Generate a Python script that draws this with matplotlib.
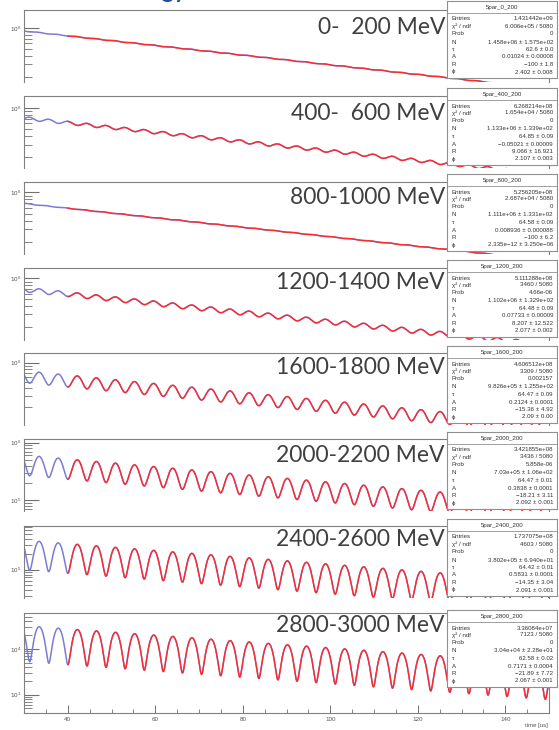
import numpy as np
import matplotlib.pyplot as plt
from matplotlib.ticker import LogLocator, NullFormatter, FixedLocator, MultipleLocator

labels = ['0-  200 MeV', '400-  600 MeV', '800-1000 MeV', '1200-1400 MeV',
          '1600-1800 MeV', '2000-2200 MeV', '2400-2600 MeV', '2800-3000 MeV']
names = ['5par_0_200', '5par_400_200', '5par_800_200', '5par_1200_200',
         '5par_1600_200', '5par_2000_200', '5par_2400_200', '5par_2800_200']
N_fit = [1.458e6, 1.133e6, 1.111e6, 1.102e6, 9.826e5, 7.03e5, 3.802e5, 3.04e4]
tau_fit = [62.6, 64.85, 64.58, 64.48, 64.47, 64.47, 64.42, 62.58]
A_fit = [0.01024, -0.05021, 0.008936, 0.07733, 0.2124, 0.3838, 0.5831, 0.7171]
R_fit = [-100, 9.066, -100, 8.207, -15.36, -18.21, -14.35, -21.89]
phi_fit = [2.402, 2.107, 2.335e-12, 2.077, 2.09, 2.092, 2.091, 2.067]

entries = ['1.431442e+09', '6.268214e+08', '5.256205e+08', '5.111288e+08',
           '4.606512e+08', '3.421855e+08', '1.737075e+08', '3.36084e+07']
chi2 = ['6.006e+05 / 5080', '1.654e+04 / 5080', '2.687e+04 / 5080', '3460 / 5080',
        '3309 / 5080', '3436 / 5080', '4603 / 5080', '7123 / 5080']
prob = ['0', '0', '0', '4.66e-06', '0.002157', '5.858e-06', '0', '0']
N_txt = ['1.458e+06 ± 1.575e+02', '1.133e+06 ± 1.339e+02', '1.111e+06 ± 1.331e+02',
         '1.102e+06 ± 1.329e+02', '9.826e+05 ± 1.255e+02', '7.03e+05 ± 1.06e+02',
         '3.802e+05 ± 6.940e+01', '3.04e+04 ± 2.28e+01']
tau_txt = ['62.6 ± 0.0', '64.85 ± 0.09', '64.58 ± 0.09', '64.48 ± 0.09',
           '64.47 ± 0.09', '64.47 ± 0.01', '64.42 ± 0.01', '62.58 ± 0.02']
A_txt = ['0.01024 ± 0.00008', '\u22120.05021 ± 0.00009', '0.008936 ± 0.000088',
         '0.07733 ± 0.00009', '0.2124 ± 0.0001', '0.3838 ± 0.0001',
         '0.5831 ± 0.0001', '0.7171 ± 0.0004']
R_txt = ['\u2212100 ± 1.8', '9.066 ± 16.921', '\u2212100 ± 6.2', '8.207 ± 12.522',
         '\u221215.36 ± 4.92', '\u221218.21 ± 3.11', '\u221214.35 ± 3.04', '\u221221.89 ± 7.72']
phi_txt = ['2.402 ± 0.008', '2.107 ± 0.003', '2.335e\u221212 ± 3.250e\u221206',
           '2.077 ± 0.002', '2.09 ± 0.00', '2.092 ± 0.001', '2.091 ± 0.001',
           '2.067 ± 0.001']
row_names = ['Entries', '\u03c7\u00b2 / ndf', 'Prob', 'N', '\u03c4', 'A', 'R', '\u03d5']

x_ticks = [40, 60, 80, 100, 120, 140]

W, H = 559, 730
fig = plt.figure(figsize=(W / 100, H / 100), dpi=100)
plt.rcParams['font.family'] = ['Liberation Sans', 'DejaVu Sans']


def px(x, y, w, h):
    return [x / W, 1 - (y + h) / H, w / W, h / H]


omega_ref = 2 * np.pi * 0.2291  # rad/us


def fit5(t, N, tau, A, R, phi):
    w = omega_ref * (1 + R * 1e-6)
    return N * np.exp(-t / tau) * (1 + A * np.cos(w * t + phi))


t_data = np.linspace(30, 150, 3000)
t_fit = t_data[t_data >= 40]

tops = [10, 96, 182, 268, 353, 439, 526, 613]
box_tops = [1, 88, 174, 260, 346, 432, 519, 610]
label_y = [28, 113, 197, 282, 368, 455, 540, 626]
frame_h = 100
left, right = 24, 549
grey = '#707070'

for i in range(8):
    last = (i == 7)
    vis = frame_h if last else 72
    ax = fig.add_axes(px(left, tops[i], right - left, vis))
    pars = (N_fit[i], tau_fit[i], A_fit[i], R_fit[i], phi_fit[i])
    y_data = fit5(t_data, *pars)
    y_fit = fit5(t_fit, *pars)
    ax.plot(t_data, y_data, color='#7b7bd6', lw=1.1)
    ax.plot(t_fit, y_fit, color='#ff2a2a', lw=1.0)
    ax.set_yscale('log')
    # ROOT style auto range on log axis
    lo, hi = y_data.min() / 2, y_data.max() * 2
    lo_vis = hi / (hi / lo) ** (vis / frame_h)
    ax.set_ylim(lo_vis, hi)
    ax.set_xlim(30, 150)
    ax.yaxis.set_major_locator(LogLocator(base=10))
    ax.yaxis.set_minor_locator(LogLocator(base=10, subs=np.arange(2, 10)))
    ax.yaxis.set_minor_formatter(NullFormatter())
    ax.tick_params(axis='y', which='major', direction='in', length=11, width=0.8,
                   color=grey, labelsize=4.5, labelcolor='#555555', pad=2)
    ax.tick_params(axis='y', which='minor', direction='in', length=6, width=0.6,
                   color=grey)
    for s in ax.spines.values():
        s.set_color('#808080')
        s.set_linewidth(0.8)
    if last:
        ax.xaxis.set_major_locator(FixedLocator(x_ticks))
        ax.xaxis.set_minor_locator(MultipleLocator(5))
        ax.tick_params(axis='x', which='major', direction='in', length=6, width=0.7,
                       color=grey, labelsize=4.5, labelcolor='#555555', pad=3)
        ax.tick_params(axis='x', which='minor', direction='in', length=3, width=0.6,
                       color=grey)
    else:
        ax.spines['bottom'].set_visible(False)
        ax.set_xticks([])

    fig.text(445 / W, 1 - label_y[i] / H, labels[i], ha='right', va='center',
             fontsize=16.5, color='#404040', family='Lato', zorder=4)

    # stat box
    bh = 77
    sb = fig.add_axes(px(447, box_tops[i], 110, bh), zorder=6)
    sb.set_xticks([])
    sb.set_yticks([])
    sb.set_facecolor('white')
    for s in sb.spines.values():
        s.set_color('#909090')
        s.set_linewidth(0.8)
    sb.set_xlim(0, 110)
    sb.set_ylim(bh, 0)
    sb.axhline(12, color='#909090', lw=0.6)
    sb.text(55, 6.5, names[i], ha='center', va='center', fontsize=4.4, color='#333333')
    vals = [entries[i], chi2[i], prob[i], N_txt[i], tau_txt[i], A_txt[i], R_txt[i], phi_txt[i]]
    rows = [18, 25, 32.5, 41, 48.5, 56, 63.5, 71]
    for rn, v, yy in zip(row_names, vals, rows):
        sb.text(5, yy, rn, ha='left', va='center', fontsize=4.4, color='#333333')
        sb.text(106, yy, v, ha='right', va='center', fontsize=4.4, color='#333333')

fig.text(548 / W, 1 - 725 / H, 'time [us]', ha='right', va='center',
         fontsize=4.3, color='#555555')
# slide title, cut off by the top edge of the screenshot
fig.text(187 / W, 1 + 2 / H, 'energy', ha='right', va='baseline',
         fontsize=17, color='#1f4e9a', fontweight='bold', family='Lato')

fig.savefig('out.png', dpi=100)
